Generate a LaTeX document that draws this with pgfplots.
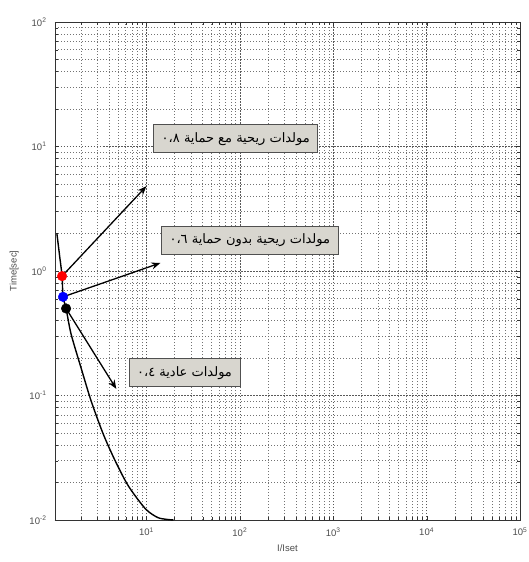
\documentclass[border=0pt]{standalone}
\usepackage{pgfplots}
\pgfplotsset{compat=1.18}
\usepackage{fontspec}
\setmainfont{Liberation Sans}
\newfontfamily\arabicfont[Script=Arabic]{DejaVu Sans}
\TeXXeTstate=1
\usetikzlibrary{arrows.meta}

\definecolor{boxfill}{HTML}{D8D6CF}
\definecolor{boxedge}{HTML}{505050}

% relay operating curve, time against multiple of the setting current
\pgfplotstableread{
x      t
1.10   2.00
1.18   1.30
1.25   0.91
1.28   0.62
1.38   0.50
1.56   0.312
2.00   0.166
2.56   0.0903
3.45   0.049
4.64   0.0298
6.40   0.0188
9.76   0.0123
13.5   0.0104
19.5   0.0100
}\curvedata

\tikzset{
  lbl/.style={fill=boxfill, draw=boxedge, line width=0.9pt,
    minimum height=28pt, inner xsep=8pt, font=\arabicfont\fontsize{13}{15}\selectfont},
  arr/.style={black, line width=1.3pt, -{Stealth[length=9pt,width=7pt]}}
}

\begin{document}
\begin{tikzpicture}
\begin{axis}[
  scale only axis,
  width=465pt, height=498pt,
  xmode=log, ymode=log,
  log basis x=10, log basis y=10,
  xmin=1.05, xmax=1e5,
  ymin=1e-2, ymax=1e2,
  grid=both,
  major grid style={black!65, dash pattern=on 1.5pt off 1.5pt, line width=0.5pt},
  minor grid style={black!55, dash pattern=on 1pt off 2pt, line width=0.45pt},
  axis line style={black!80, line width=0.8pt},
  tick style={black!80},
  tick align=inside,
  ticklabel style={font=\fontsize{9.5}{10}\selectfont, text=black!70},
  xticklabel={10\textsuperscript{\pgfmathparse{int(round(\tick))}\pgfmathresult}},
  yticklabel={10\textsuperscript{\pgfmathparse{int(round(\tick))}\pgfmathresult}},
  xticklabel style={yshift=-4pt},
  yticklabel style={xshift=-5pt},
  xlabel={I/Iset},
  ylabel={Time[sec]},
  label style={font=\fontsize{9.5}{10}\selectfont, text=black!70},
  xlabel style={yshift=-2pt},
  ylabel style={yshift=4pt},
  clip=true,
]
\addplot[black, line width=1.4pt, smooth, tension=0.45] table[x=x, y=t] {\curvedata};

\addplot[arr] coordinates {(1.25,0.91) (10,4.8)};
\addplot[arr] coordinates {(1.28,0.62) (14.1,1.16)};
\addplot[arr] coordinates {(1.38,0.50) (4.76,0.113)};

\addplot[only marks, mark=*, mark size=4.8pt, black] coordinates {(1.38,0.50)};
\addplot[only marks, mark=*, mark size=4.8pt, blue] coordinates {(1.28,0.62)};
\addplot[only marks, mark=*, mark size=4.8pt, red] coordinates {(1.25,0.91)};

\node[lbl] at (axis cs:90.6,11.5) {\beginR مولدات ريحية مع حماية ٠،٨\endR};
\node[lbl] at (axis cs:128,1.77) {\beginR مولدات ريحية بدون حماية ٠،٦\endR};
\node[lbl] at (axis cs:25.6,0.152) {\beginR مولدات عادية ٠،٤\endR};

\coordinate (tl) at (rel axis cs:0,1);
\coordinate (br) at (rel axis cs:1,0);
\end{axis}
% page frame: room for the labels round the plot area
\pgfresetboundingbox
\path ([shift={(-55pt,22pt)}]tl) rectangle ([shift={(8pt,-42pt)}]br);
\end{tikzpicture}
\end{document}
